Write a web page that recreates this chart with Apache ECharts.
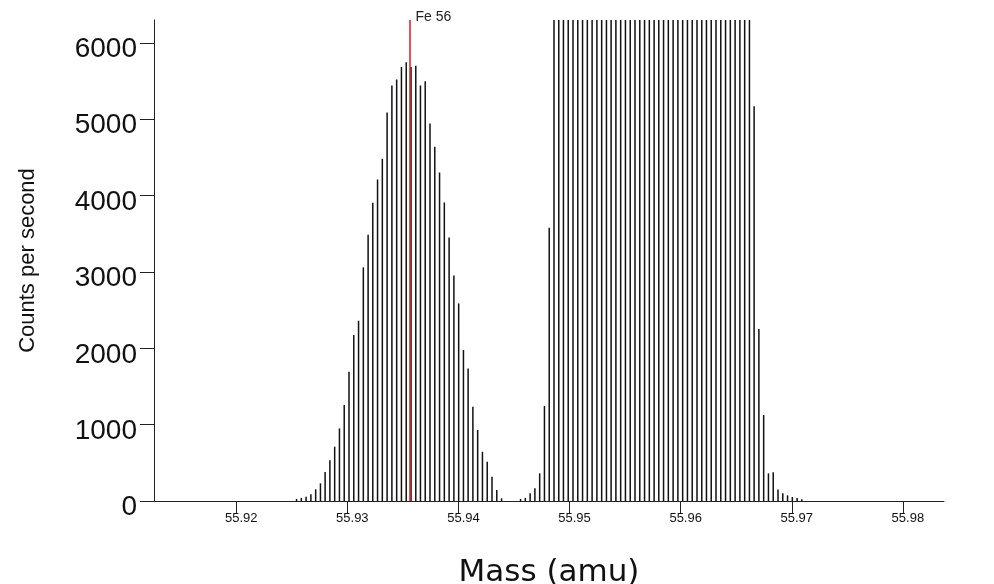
<!DOCTYPE html>
<html><head><meta charset="utf-8">
<script src="https://cdn.jsdelivr.net/npm/echarts@6/dist/echarts.min.js"></script>
<style>html,body{margin:0;padding:0;background:#fff}#c{width:994px;height:584px}</style>
</head><body><div id="c"></div>
<script>
// Tick labels
const xTicks = [55.92, 55.93, 55.94, 55.95, 55.96, 55.97, 55.98];
const yTicks = [0, 1000, 2000, 3000, 4000, 5000, 6000];

// Left peak (Fe 56)
const leftMass = [55.92543,55.92586,55.92629,55.92672,55.92715,55.92758,55.92800,55.92843,55.92886,55.92929,
  55.92972,55.93015,55.93058,55.93101,55.93144,55.93187,55.93229,55.93272,55.93315,55.93358,
  55.93401,55.93444,55.93487,55.93530,55.93573,55.93616,55.93658,55.93701,55.93744,55.93787,
  55.93830,55.93873,55.93916,55.93959,55.94002,55.94045,55.94087,55.94130,55.94173,55.94216,
  55.94259,55.94302,55.94345,55.94388];
const leftCounts = [26,40,56,87,153,231,380,533,711,951,
  1257,1693,2173,2361,3060,3487,3906,4212,4482,5089,
  5442,5521,5686,5748,5686,5700,5442,5499,4945,4639,
  4303,3910,3452,2955,2588,1977,1737,1235,930,645,
  515,318,144,35];

// Right peak (saturated at full scale)
const rightMass = [55.94559,55.94602,55.94645,55.94688,55.94731,55.94774,55.94817,
  55.94860,55.94903,55.94945,55.94988,55.95031,55.95074,55.95117,55.95160,55.95203,55.95246,
  55.95289,55.95332,55.95374,55.95417,55.95460,55.95503,55.95546,55.95589,55.95632,55.95675,
  55.95718,55.95761,55.95803,55.95846,55.95889,55.95932,55.95975,55.96018,55.96061,55.96104,
  55.96147,55.96190,55.96232,55.96275,55.96318,55.96361,55.96404,55.96447,55.96490,55.96533,
  55.96576,55.96619,
  55.96661,55.96704,55.96747,55.96790,55.96833,55.96876,55.96919,55.96962,55.97005,55.97048,55.97090];
const rightCounts = [26,40,100,166,362,1244,3579,
  6300,6300,6300,6300,6300,6300,6300,6300,6300,6300,
  6300,6300,6300,6300,6300,6300,6300,6300,6300,6300,
  6300,6300,6300,6300,6300,6300,6300,6300,6300,6300,
  6300,6300,6300,6300,6300,6300,6300,6300,6300,6300,
  6300,6300,
  5171,2252,1126,362,376,150,100,74,52,40,22];

const fe56Mass = 55.9356;
const fe56Label = 'Fe 56';
const xName = 'Mass (amu)';
const yName = 'Counts per second';

const pts = [];
leftMass.forEach((m, i) => pts.push([m, leftCounts[i]]));
rightMass.forEach((m, i) => pts.push([m, rightCounts[i]]));

const chart = echarts.init(document.getElementById('c'), null, {renderer: 'canvas'});
chart.setOption({
  animation: false,
  backgroundColor: '#fff',
  grid: {left: 154, right: 50, top: 20, bottom: 83, containLabel: false, outerBoundsMode: 'none'},
  xAxis: {
    type: 'value', min: 55.9126, max: 55.9837,
    name: xName, nameLocation: 'middle', nameGap: 56,
    nameTextStyle: {fontFamily: 'DejaVu Sans', fontSize: 31, color: '#111'},
    axisLine: {show: true, onZero: false, lineStyle: {color: '#222', width: 1}},
    axisTick: {show: true, length: 12, inside: false, customValues: xTicks, lineStyle: {color: '#222'}},
    axisLabel: {customValues: xTicks, margin: 11, formatter: v => v.toFixed(2),
      fontFamily: 'Liberation Sans', fontSize: 13, color: '#111', padding: [0,0,0,10]},
    splitLine: {show: false}
  },
  yAxis: {
    type: 'value', min: 0, max: 6300,
    name: yName, nameLocation: 'middle', nameGap: 115, nameRotate: 90,
    nameTextStyle: {fontFamily: 'Liberation Sans', fontSize: 22, color: '#111'},
    axisLine: {show: true, lineStyle: {color: '#222', width: 1}},
    axisTick: {show: true, length: 14, customValues: yTicks, lineStyle: {color: '#222'}},
    axisLabel: {customValues: yTicks, margin: 17,
      formatter: v => '{a|' + String(v) + '}',
      rich: {a: {fontFamily: 'Liberation Sans', fontSize: 28, color: '#111', padding: [13,0,0,0]}}},
    splitLine: {show: false}
  },
  series: [{
    type: 'bar', data: pts, barWidth: 1.5,
    itemStyle: {color: '#111'},
    markLine: {
      silent: true, symbol: ['none', 'none'],
      lineStyle: {color: '#e8141b', width: 1.5, type: 'solid'},
      label: {show: true, position: 'end', formatter: fe56Label, color: '#222',
        fontFamily: 'Liberation Sans', fontSize: 14, align: 'left', verticalAlign: 'middle',
        padding: [0,0,0,6], distance: 3},
      data: [[{coord: [fe56Mass, 0]}, {coord: [fe56Mass, 6300]}]]
    }
  }]
});
</script>
</body></html>
